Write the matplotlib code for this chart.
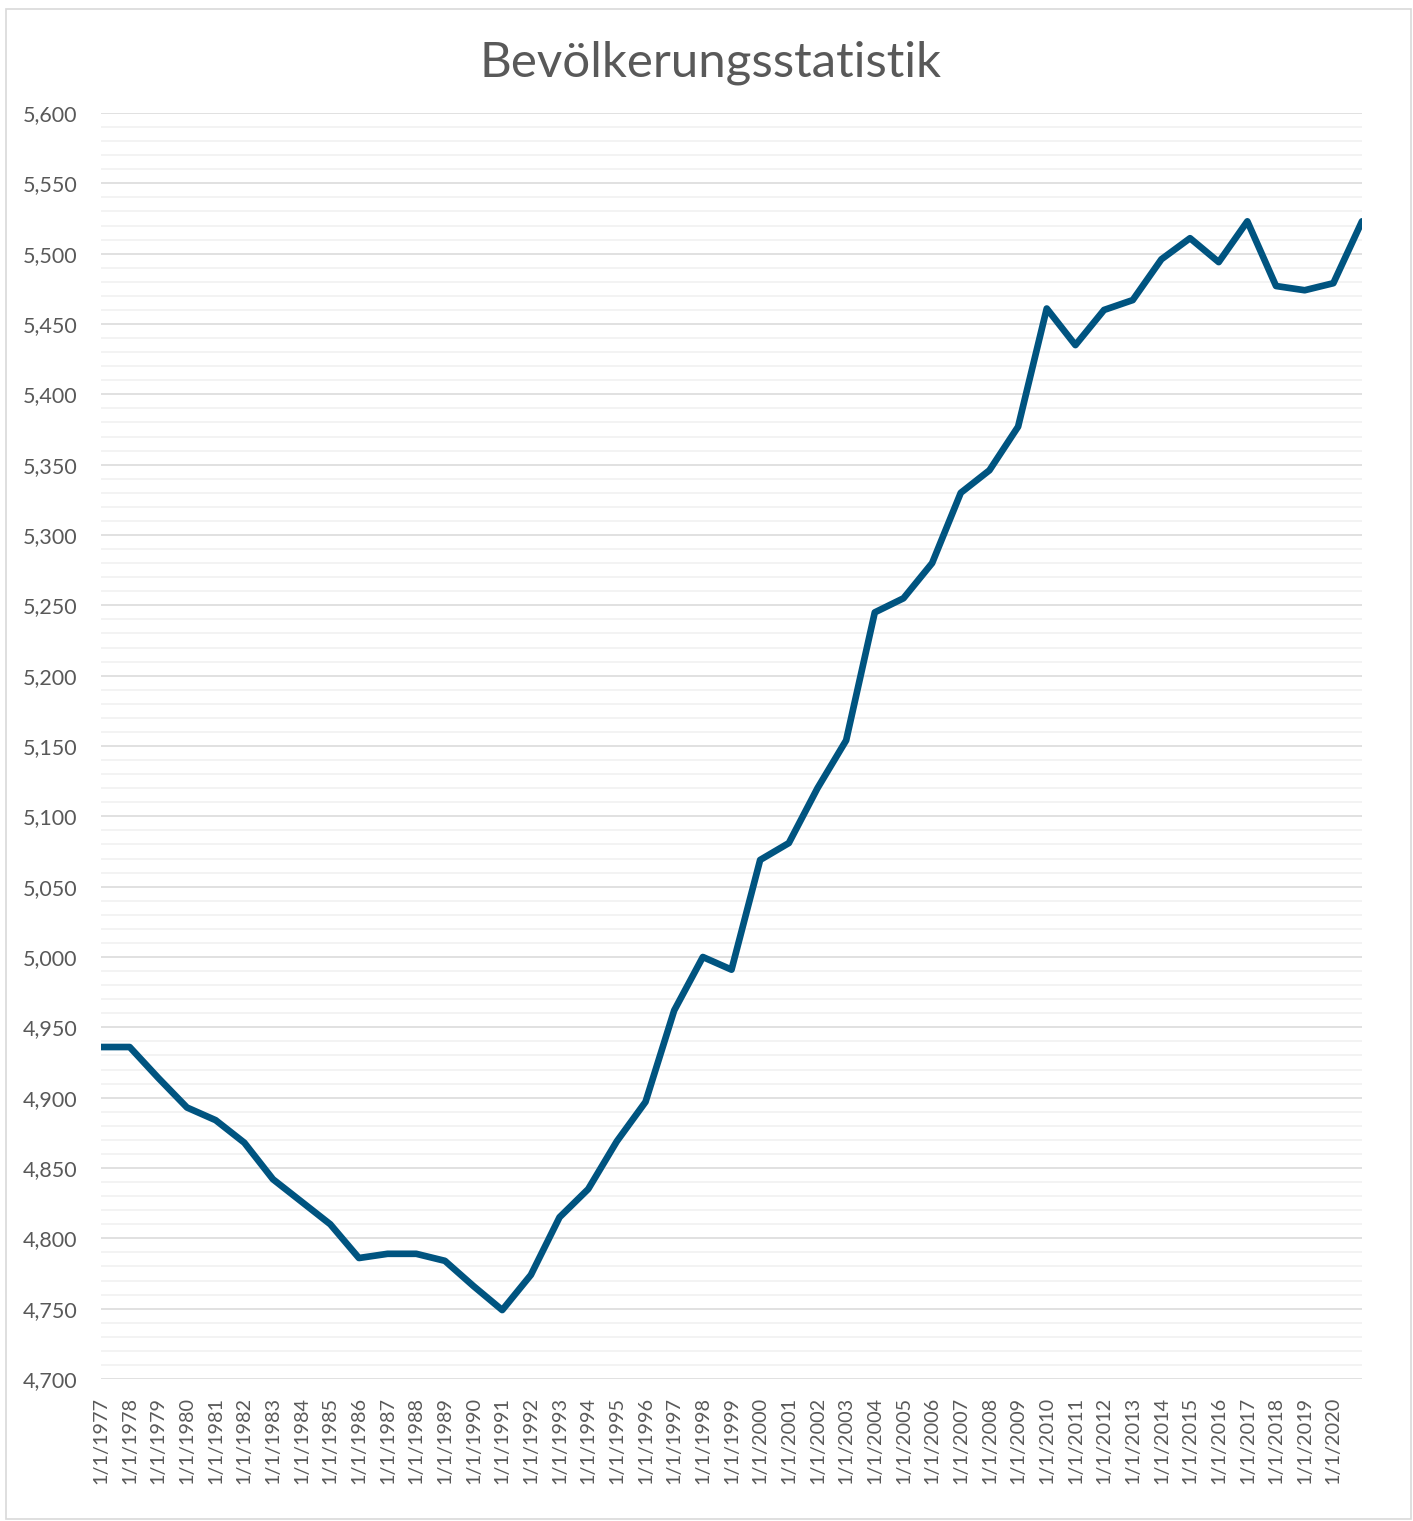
import matplotlib
matplotlib.use("Agg")
import matplotlib.pyplot as plt
from matplotlib.ticker import MultipleLocator, FuncFormatter
from matplotlib.patches import Rectangle

# Daten (Jahreswerte, 1.1. jedes Jahres)
jahre = list(range(1977, 2022))
bevoelkerung = [4936, 4936, 4914, 4893, 4884, 4868, 4842, 4826, 4810, 4786,
                4789, 4789, 4784, 4766, 4749, 4774, 4815, 4835, 4869, 4897,
                4962, 5000, 4991, 5069, 5081, 5120, 5154, 5245, 5255, 5280,
                5330, 5346, 5377, 5461, 5435, 5460, 5467, 5496, 5511, 5494,
                5523, 5477, 5474, 5479, 5523]
# die letzte Kategorie hat keine Beschriftung
tick_labels = ["1/1/%d" % j for j in jahre[:-1]]

titel = "Bevölkerungsstatistik"
grau = "#595959"

plt.rcParams['font.family'] = ['Lato', 'DejaVu Sans']

fig = plt.figure(figsize=(14.13, 15.21), dpi=100)
ax = fig.add_axes([101 / 1413, 1 - 1379 / 1521, (1362 - 101) / 1413, (1379 - 113) / 1521])

x = list(range(len(bevoelkerung)))
ax.plot(x, bevoelkerung, color="#005480", lw=4.8, solid_joinstyle="round",
        solid_capstyle="round", zorder=3)

ax.set_xlim(0, len(bevoelkerung) - 1)
ax.set_ylim(4700, 5600)
ax.yaxis.set_major_locator(MultipleLocator(50))
ax.yaxis.set_minor_locator(MultipleLocator(10))
ax.yaxis.set_major_formatter(FuncFormatter(lambda v, p: "{:,.0f}".format(v)))
ax.grid(which="major", axis="y", color="#d9d9d9", lw=1.1, zorder=1)
ax.grid(which="minor", axis="y", color="#f0f0f0", lw=1.1, zorder=0)
ax.set_axisbelow(True)

ax.set_xticks(x[:-1])
ax.set_xticklabels(tick_labels, rotation=90, va="top", ha="center")
ax.tick_params(axis="x", length=0, pad=13, labelsize=14.3, labelcolor=grau)
ax.tick_params(axis="y", which="both", length=0, pad=17, labelsize=15.5, labelcolor=grau)

for s in ax.spines.values():
    s.set_visible(False)

fig.text(0.5025, 1 - 63 / 1521, titel, ha="center", va="center", fontsize=35.5, color=grau)

# Rahmen um das Diagramm
fig.patches.append(Rectangle((6 / 1413, 1 - 1519 / 1521), 1405 / 1413, 1510 / 1521,
                             transform=fig.transFigure, fill=False, edgecolor="#d9d9d9", lw=1.2))

fig.savefig("out.png", dpi=100)
